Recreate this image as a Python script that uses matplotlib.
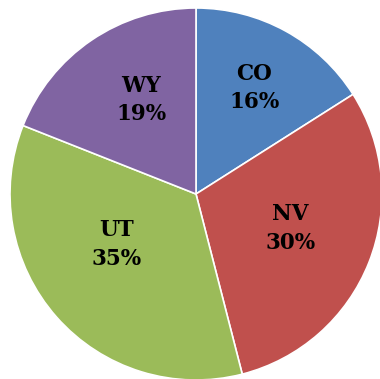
import matplotlib
matplotlib.use("Agg")
import matplotlib.pyplot as plt
import numpy as np

states = ["CO", "NV", "UT", "WY"]
shares = [16, 30, 35, 19]
colors = ["#4F81BD", "#C0504D", "#9BBB59", "#8064A2"]
label_dist = [0.65, 0.54, 0.505, 0.585]
label_turn = [0.0, 1.4, -8.6, -3.9]  # degrees (counterclockwise)

fig = plt.figure(figsize=(3.80, 3.79), dpi=100)
ax = fig.add_axes([0, 0, 1, 1])

cx, cy, r = 196, 185, 186
wedges, _ = ax.pie(shares, colors=colors, startangle=90, counterclock=False,
                   center=(cx, cy), radius=r,
                   wedgeprops=dict(edgecolor="white", linewidth=1.2))
ax.set_xlim(0, 380)
ax.set_ylim(0, 379)
ax.set_aspect("equal")
ax.axis("off")

for w, s, p, d, t in zip(wedges, states, shares, label_dist, label_turn):
    ang = np.deg2rad((w.theta1 + w.theta2) / 2 + t)
    x = cx + r * d * np.cos(ang)
    y = cy + r * d * np.sin(ang)
    ax.text(x, y, f"{s}\n{p}%", ha="center", va="center",
            fontsize=15.5, fontweight="bold", family="DejaVu Serif",
            linespacing=1.4, color="black")

fig.savefig("out.png", dpi=100)
